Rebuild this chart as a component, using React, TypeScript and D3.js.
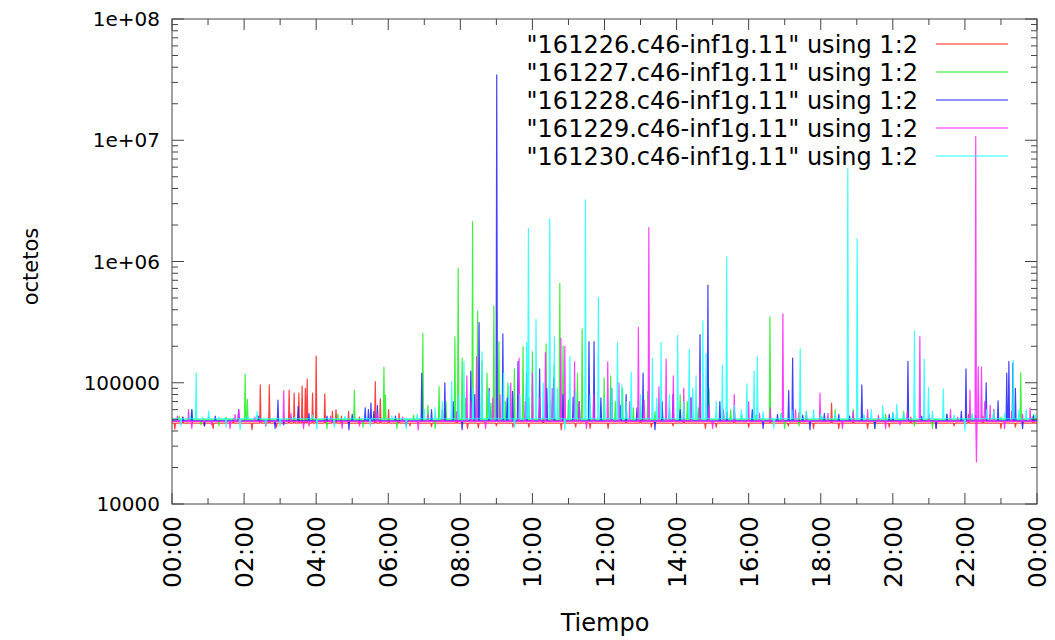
import React from "react";
import * as d3 from "d3";

const W = 1055;
const H = 640;
const PLOT = { left: 172, right: 1037, top: 19, bottom: 504 };

const seriesNames = [
  '"161226.c46-inf1g.11" using 1:2',
  '"161227.c46-inf1g.11" using 1:2',
  '"161228.c46-inf1g.11" using 1:2',
  '"161229.c46-inf1g.11" using 1:2',
  '"161230.c46-inf1g.11" using 1:2',
];
const seriesColors = ["#ff2020", "#20ee20", "#2020ff", "#ff20ff", "#20ffff"];
const seriesBase = [46500, 49500, 48500, 48000, 50500];

// [hour, octets] — large peaks
const red161226: [number, number][] = [
  [0.08, 41500], [1.14, 42000], [2.22, 41000], [2.45, 96000], [2.7, 96000], [3.25, 87000],
  [3.39, 82000], [3.52, 82000], [3.61, 94000], [3.7, 90000], [3.75, 107000], [3.9, 82000],
  [4.0, 166000], [4.24, 81000], [4.45, 58000], [4.55, 60000], [4.9, 58000], [5.64, 102000],
  [5.78, 74000], [6.01, 60000], [6.3, 56000], [8.2, 42000], [9.46, 43000], [10.8, 41000],
  [11.6, 42000], [13.0, 58000], [13.9, 44000], [14.8, 42000], [15.6, 55000], [16.0, 43000],
  [17.4, 57000], [17.8, 42000], [18.3, 68000], [18.5, 42000], [19.9, 43000], [21.2, 42000],
  [22.1, 55000], [23.0, 42000],
];
const green161227: [number, number][] = [
  [0.55, 60000], [1.3, 44000], [2.03, 118000], [2.09, 73000], [2.6, 44000], [4.3, 42000],
  [5.06, 86000], [5.3, 43000], [5.88, 134000], [5.92, 79000], [6.24, 42000], [6.96, 256000],
  [7.3, 42000], [7.41, 93000], [7.85, 239000], [7.94, 880000], [8.05, 160000], [8.34, 2130000],
  [8.48, 390000], [8.6, 150000], [8.74, 120000], [8.93, 430000], [9.07, 218000], [9.32, 100000],
  [9.5, 130000], [9.74, 199000], [10.0, 180000], [10.38, 209000], [10.6, 140000], [10.76, 660000],
  [10.85, 202000], [11.25, 120000], [11.38, 278000], [11.99, 110000], [12.17, 114000],
  [12.5, 90000], [13.2, 85000], [13.6, 60000], [14.1, 80000], [14.3, 70000], [14.9, 90000],
  [15.5, 60000], [16.59, 350000], [17.0, 42000], [17.6, 58000], [18.03, 52500], [18.9, 60000],
  [19.5, 42000], [20.3, 58000], [21.1, 42000], [22.8, 60000], [23.55, 121000],
];
const blue161228: [number, number][] = [
  [0.55, 60000], [0.9, 44000], [1.85, 60000], [2.86, 42000], [2.94, 72000], [3.5, 64000],
  [4.91, 41000], [5.36, 62000], [5.45, 60000], [5.52, 68000], [6.5, 44000], [6.93, 120000],
  [7.57, 100000], [8.05, 41000], [8.29, 125000], [8.52, 313000], [9.01, 34700000], [9.18, 253000],
  [9.6, 150000], [9.84, 120000], [10.2, 130000], [10.6, 110000], [11.13, 76000], [11.57, 218000],
  [11.71, 218000], [12.2, 90000], [12.6, 80000], [13.07, 120000], [13.4, 41000], [13.9, 80000],
  [14.65, 250000], [14.87, 640000], [15.2, 70000], [15.6, 60000], [16.4, 42000], [17.11, 86000],
  [17.22, 160000], [17.7, 41000], [18.5, 55000], [19.14, 96000], [19.5, 42000], [20.0, 56000],
  [20.42, 150000], [21.2, 42000], [22.03, 130000], [22.59, 100000], [22.92, 71000],
  [23.16, 120000], [23.22, 150000], [23.33, 145000], [23.6, 42000],
];
const magenta161229: [number, number][] = [
  [0.46, 60000], [0.55, 42000], [1.61, 42000], [1.85, 60000], [2.6, 44000], [3.1, 86000],
  [3.65, 42000], [4.72, 42000], [5.2, 44000], [6.83, 40800], [8.18, 114000], [8.45, 164000],
  [8.7, 42000], [9.4, 100000], [9.63, 160000], [10.0, 120000], [10.36, 177000], [10.79, 234000],
  [10.9, 200000], [11.17, 149000], [11.5, 42000], [12.09, 149000], [12.4, 100000],
  [12.94, 287000], [13.23, 1900000], [13.51, 93000], [13.71, 157000], [13.91, 114000],
  [14.2, 90000], [14.65, 123000], [15.0, 42000], [15.6, 80000], [16.0, 70000], [16.95, 370000],
  [17.3, 60000], [17.98, 82000], [18.6, 42000], [19.3, 60000], [19.8, 42000], [20.75, 240000],
  [21.6, 60000], [22.14, 87000], [22.3, 10700000], [22.32, 22200], [22.37, 135000],
  [22.46, 135000], [22.8, 60000], [23.1, 42000], [23.81, 62000],
];
const cyan161230: [number, number][] = [
  [0.25, 44000], [0.67, 120000], [1.02, 58500], [1.5, 43000], [1.89, 41000], [2.36, 58000],
  [3.0, 44000], [4.02, 41500], [4.5, 43000], [5.5, 44000], [6.5, 42000], [7.0, 60000],
  [7.76, 102000], [8.1, 150000], [8.6, 180000], [9.2, 120000], [9.5, 43000], [9.84, 216000],
  [9.89, 1880000], [10.1, 334000], [10.48, 2250000], [10.61, 240000], [10.9, 41000],
  [11.04, 164000], [11.47, 3220000], [11.83, 507000], [12.36, 212000], [12.48, 96000],
  [12.74, 122000], [13.33, 159000], [13.57, 214000], [14.03, 245000], [14.35, 189000],
  [14.54, 114000], [14.73, 324000], [14.82, 175000], [15.27, 140000], [15.39, 1100000],
  [15.95, 98000], [16.15, 125000], [16.24, 164000], [16.7, 42000], [17.43, 190000],
  [17.8, 60000], [18.75, 5800000], [19.01, 1540000], [19.4, 60000], [19.72, 65000],
  [20.11, 66500], [20.6, 265000], [20.87, 157000], [20.99, 91000], [21.4, 89000],
  [22.0, 40000], [22.6, 60000], [23.34, 152000], [23.7, 60000],
];

// [hour, octets] — small fluctuations around the baseline
const red161226Small: [number, number][] = [
  [0.3, 52000], [0.9, 44000], [1.7, 51000], [2.9, 43000], [4.7, 53000], [5.2, 52000],
  [6.6, 44000], [7.2, 43500], [7.9, 52000], [8.5, 42500], [9.0, 44000], [9.9, 43000],
  [10.3, 52000], [11.2, 43000], [12.1, 42000], [12.6, 52000], [13.3, 43000], [14.2, 53000],
  [15.1, 43000], [16.6, 52000], [17.1, 44000], [18.9, 53000], [19.3, 42000], [20.5, 52000],
  [21.7, 44000], [22.5, 53000], [23.4, 43000], [23.9, 52000],
];
const green161227Small: [number, number][] = [
  [0.2, 53000], [0.8, 45000], [1.5, 52000], [3.3, 53000], [3.8, 45000], [4.6, 55000],
  [6.7, 54000], [7.1, 65000], [7.6, 70000], [8.15, 75000], [8.85, 68000], [9.25, 70000],
  [9.9, 75000], [10.2, 65000], [10.5, 70000], [11.0, 72000], [11.6, 66000], [12.3, 70000],
  [12.8, 62000], [13.0, 65000], [13.4, 58000], [14.6, 62000], [15.3, 58000], [15.8, 55000],
  [16.2, 54000], [16.9, 56000], [17.4, 44000], [18.4, 60000], [19.8, 55000], [20.6, 44000],
  [21.5, 55000], [22.2, 54000], [23.0, 52000], [23.9, 55000],
];
const blue161228Small: [number, number][] = [
  [0.3, 52000], [1.2, 53000], [2.4, 53000], [3.1, 45000], [3.8, 56000], [4.3, 53000],
  [5.0, 55000], [5.6, 58000], [5.7, 65000], [6.2, 53000], [7.2, 60000], [7.8, 70000],
  [8.4, 80000], [8.8, 90000], [9.3, 75000], [9.45, 85000], [10.4, 90000], [10.85, 80000],
  [11.3, 70000], [11.9, 75000], [12.45, 65000], [12.9, 62000], [13.6, 70000], [14.1, 60000],
  [14.4, 75000], [15.4, 58000], [16.1, 60000], [16.8, 55000], [17.5, 54000], [18.1, 56000],
  [18.8, 53000], [19.9, 55000], [20.8, 53000], [21.5, 55000], [21.9, 58000], [22.3, 54000],
  [23.4, 90000], [23.9, 53000],
];
const magenta161229Small: [number, number][] = [
  [0.15, 53000], [1.1, 45000], [1.75, 55000], [2.3, 52000], [3.3, 56000], [3.8, 44000],
  [4.4, 53000], [5.7, 55000], [6.4, 52000], [7.1, 55000], [7.5, 60000], [7.9, 58000],
  [8.3, 70000], [8.9, 75000], [9.1, 80000], [9.8, 70000], [10.2, 75000], [10.55, 90000],
  [11.3, 70000], [11.7, 80000], [12.2, 65000], [12.7, 70000], [13.1, 72000], [13.8, 62000],
  [14.4, 75000], [14.9, 65000], [15.3, 60000], [16.3, 56000], [16.6, 62000], [17.6, 55000],
  [18.2, 56000], [18.9, 58000], [19.6, 54000], [20.2, 45000], [20.4, 58000], [21.0, 55000],
  [21.8, 52000], [22.55, 70000], [22.7, 65000], [23.3, 58000], [23.6, 55000],
];
const cyan161230Small: [number, number][] = [
  [0.5, 53000], [0.85, 52000], [1.3, 52000], [2.1, 53000], [2.6, 45000], [3.4, 52000],
  [3.9, 54000], [4.8, 53000], [5.4, 52000], [6.1, 53000], [6.8, 55000], [7.3, 62000],
  [7.5, 70000], [7.95, 80000], [8.35, 90000], [8.8, 85000], [9.35, 95000], [9.65, 80000],
  [10.3, 100000], [10.7, 90000], [11.2, 85000], [11.6, 80000], [12.0, 75000], [12.2, 90000],
  [12.6, 70000], [13.0, 80000], [13.45, 75000], [13.8, 80000], [14.2, 70000], [14.45, 90000],
  [15.1, 70000], [15.6, 65000], [15.8, 60000], [16.4, 58000], [16.9, 55000], [17.2, 60000],
  [17.6, 58000], [18.0, 55000], [18.4, 56000], [19.2, 55000], [20.0, 57000], [20.3, 56000],
  [21.1, 58000], [21.7, 54000], [22.2, 56000], [22.8, 58000], [23.1, 56000], [23.5, 60000],
  [23.95, 55000],
];

const seriesData = [
  red161226.concat(red161226Small),
  green161227.concat(green161227Small),
  blue161228.concat(blue161228Small),
  magenta161229.concat(magenta161229Small),
  cyan161230.concat(cyan161230Small),
];

const xTickHours = [0, 2, 4, 6, 8, 10, 12, 14, 16, 18, 20, 22, 24];
const xTickLabels = ["00:00", "02:00", "04:00", "06:00", "08:00", "10:00", "12:00", "14:00", "16:00", "18:00", "20:00", "22:00", "00:00"];
const yTickValues = [1e4, 1e5, 1e6, 1e7, 1e8];
const yTickLabels = ["10000", "100000", "1e+06", "1e+07", "1e+08"];

const FONT = "'DejaVu Sans', sans-serif";

function buildPoints(base: number, spikes: [number, number][]): [number, number][] {
  const d = 0.018;
  const pts: [number, number][] = [[0, base]];
  [...spikes].sort((a, b) => a[0] - b[0]).forEach(([t, v]) => {
    pts.push([t - d, base], [t, v], [t + d, base]);
  });
  pts.push([24, base]);
  return pts;
}

export default function App() {
  const x = d3.scaleLinear().domain([0, 24]).range([PLOT.left, PLOT.right]);
  const y = d3.scaleLog().domain([1e4, 1e8]).range([PLOT.bottom, PLOT.top]);
  const line = d3
    .line<[number, number]>()
    .x((d) => x(d[0]))
    .y((d) => y(d[1]));

  const minorY: number[] = [];
  for (let e = 4; e < 8; e++) for (let m = 2; m <= 9; m++) minorY.push(m * Math.pow(10, e));
  const minorX = d3.range(1, 24, 2);
  const axisColor = "#444";

  return (
    <svg width={W} height={H} style={{ position: "absolute", left: 0, top: 0, background: "#fff" }} fontFamily={FONT}>
      <rect x={0} y={0} width={W} height={H} fill="#fff" />
      <defs>
        <clipPath id="clip">
          <rect x={PLOT.left} y={PLOT.top} width={PLOT.right - PLOT.left} height={PLOT.bottom - PLOT.top} />
        </clipPath>
      </defs>
      {/* series */}
      <g clipPath="url(#clip)">
        {seriesData.map((s, i) => (
          <path key={i} d={line(buildPoints(seriesBase[i], s)) || ""} fill="none" stroke={seriesColors[i]} strokeWidth={1.2} strokeOpacity={0.85} strokeLinejoin="round" />
        ))}
      </g>
      {/* ticks */}
      <g stroke={axisColor} strokeWidth={1}>
        {yTickValues.map((v, i) => (
          <g key={"ym" + i}>
            <line x1={PLOT.left} x2={PLOT.left + 12} y1={y(v)} y2={y(v)} />
            <line x1={PLOT.right} x2={PLOT.right - 12} y1={y(v)} y2={y(v)} />
          </g>
        ))}
        {minorY.map((v, i) => (
          <g key={"yn" + i}>
            <line x1={PLOT.left} x2={PLOT.left + 6} y1={y(v)} y2={y(v)} />
            <line x1={PLOT.right} x2={PLOT.right - 6} y1={y(v)} y2={y(v)} />
          </g>
        ))}
        {xTickHours.map((h, i) => (
          <g key={"xm" + i}>
            <line x1={x(h)} x2={x(h)} y1={PLOT.bottom} y2={PLOT.bottom - 11} />
            <line x1={x(h)} x2={x(h)} y1={PLOT.top} y2={PLOT.top + 11} />
          </g>
        ))}
        {minorX.map((h, i) => (
          <g key={"xn" + i}>
            <line x1={x(h)} x2={x(h)} y1={PLOT.bottom} y2={PLOT.bottom - 6} />
            <line x1={x(h)} x2={x(h)} y1={PLOT.top} y2={PLOT.top + 6} />
          </g>
        ))}
      </g>
      <rect x={PLOT.left} y={PLOT.top} width={PLOT.right - PLOT.left} height={PLOT.bottom - PLOT.top} fill="none" stroke={axisColor} strokeWidth={1} />
      {/* y tick labels */}
      {yTickValues.map((v, i) => (
        <text key={"yl" + i} x={PLOT.left - 12} y={y(v)} dy="0.36em" textAnchor="end" fontSize={20} fill="#000">
          {yTickLabels[i]}
        </text>
      ))}
      {/* x tick labels */}
      {xTickHours.map((h, i) => (
        <text key={"xl" + i} transform={`translate(${x(h)},${PLOT.bottom + 12}) rotate(-90)`} dy="0.36em" textAnchor="end" fontSize={25} fill="#000">
          {xTickLabels[i]}
        </text>
      ))}
      {/* axis titles */}
      <text x={605} y={631} textAnchor="middle" fontSize={24} fill="#000">Tiempo</text>
      <text transform={`translate(30,${(PLOT.top + PLOT.bottom) / 2 + 5}) rotate(-90)`} dy="0.36em" textAnchor="middle" fontSize={21} fill="#000">octetos</text>
      {/* legend */}
      {seriesNames.map((n, i) => (
        <g key={"lg" + i}>
          <text x={918} y={44 + i * 28} dy="0.36em" textAnchor="end" fontSize={24} fill="#000">{n}</text>
          <line x1={936} x2={1008} y1={44 + i * 28} y2={44 + i * 28} stroke={seriesColors[i]} strokeWidth={1} />
        </g>
      ))}
    </svg>
  );
}
